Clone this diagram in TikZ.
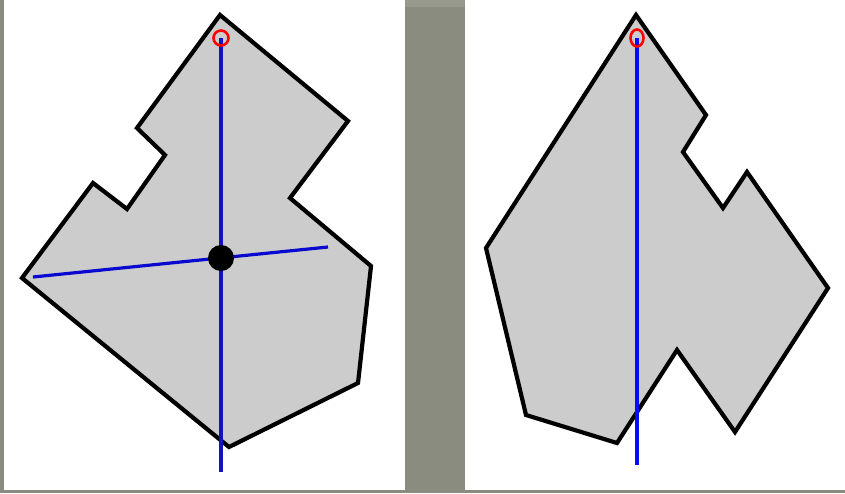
\documentclass[tikz,border=0pt]{standalone}
\usepackage{tikz}
\usepackage{xcolor}
\definecolor{bggreen}{RGB}{137,140,126}
\definecolor{bglight}{RGB}{150,153,140}
\definecolor{shapegray}{RGB}{204,204,204}
\definecolor{axisnavy}{RGB}{18,18,190}
\definecolor{axisblue}{RGB}{10,10,245}

\begin{document}
\begin{tikzpicture}[x=1pt, y=-1pt,
	outline/.style={draw=black, line width=4.2pt, fill=shapegray, line join=miter},
	axisline/.style={line width=3.2pt},
	pivot/.style={draw=red, line width=2.6pt}]
	
	% background and the two panels
	\fill[bggreen] (0,0) rectangle (845,493);
	\useasboundingbox (0,0) rectangle (845,493);
	\fill[bglight] (405,0) rectangle (465,7);
	\fill[white] (4,0) rectangle (405,490);
	\fill[white] (465,0) rectangle (845,490);
	
	% left polygon
	\draw[outline] (220,15) -- (348,121) -- (290,198) -- (371,266) -- (358,383)
		-- (229,447) -- (22,278) -- (93,183) -- (127,209) -- (165,155) -- (137,128) -- cycle;
	
	% left axes
	\coordinate (ltop) at (221,38);
	\coordinate (lbot) at (221,472);
	\coordinate (lwest) at (33,277);
	\coordinate (least) at (328,247);
	\coordinate (lcentre) at (221,258);
	\draw[axisline, axisnavy] (ltop) -- (lbot);
	\draw[axisline, axisblue!85!black] (lwest) -- (least);
	\fill[black] (lcentre) circle (13);
	\draw[pivot] (ltop) circle (7.5);
	
	% right polygon
	\draw[outline] (636,15) -- (706,115) -- (683,152) -- (723,208) -- (747,172)
		-- (828,288) -- (735,432) -- (677,350) -- (617,443) -- (526,415) -- (486,248) -- cycle;
	
	% right axis
	\coordinate (rtop) at (637,38);
	\coordinate (rbot) at (637,465);
	\draw[axisline, axisblue] (rtop) -- (rbot);
	\draw[pivot] (rtop) ellipse (6.5 and 8.5);
	
\end{tikzpicture}
\end{document}
